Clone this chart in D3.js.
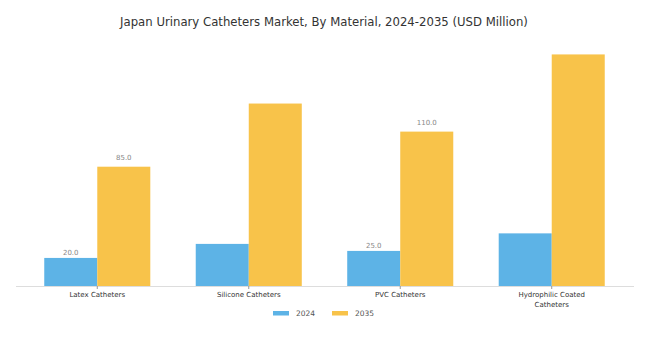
<!DOCTYPE html>
<html><head><meta charset="utf-8">
<script src="https://cdn.jsdelivr.net/npm/d3@7"></script>
<style>body{margin:0;background:#fff;}svg{display:block;font-family:"DejaVu Sans",sans-serif;}</style>
</head><body>
<svg id="chart" width="657" height="346"></svg>
<script>
const categories = ["Latex Catheters", "Silicone Catheters", "PVC Catheters", "Hydrophilic Coated Catheters"];
const seriesNames = ["2024", "2035"];
const values2024 = [20.0, 30.0, 25.0, 37.5];
const values2035 = [85.0, 130.0, 110.0, 165.0];
const showLabel = [true, false, true, false];
const colors = ["#5DB3E6", "#F8C34A"];
const title = "Japan Urinary Catheters Market, By Material, 2024-2035 (USD Million)";

const svg = d3.select("#chart");
const x0 = d3.scaleBand().domain(categories).range([16, 633]).paddingInner(0.3).paddingOuter(0.1865);
const x1 = d3.scaleBand().domain(seriesNames).range([0, x0.bandwidth()]);
const y = d3.scaleLinear().domain([0, 171]).range([286, 46]);

svg.append("text").attr("x", 324).attr("y", 26).attr("text-anchor", "middle")
  .attr("font-size", 11.7).attr("fill", "#333").text(title);

const series = [values2024, values2035];
series.forEach((vals, si) => {
  const data = vals.map((v, i) => ({ v, cat: categories[i], show: showLabel[i] }));
  svg.append("g").selectAll("rect").data(data).join("rect")
    .attr("x", d => x0(d.cat) + x1(seriesNames[si]))
    .attr("y", d => y(d.v))
    .attr("width", x1.bandwidth())
    .attr("height", d => y(0) - y(d.v))
    .attr("fill", colors[si]);
  svg.append("g").selectAll("text").data(data.filter(d => d.show)).join("text")
    .attr("x", d => x0(d.cat) + x1(seriesNames[si]) + x1.bandwidth() / 2)
    .attr("y", d => y(d.v) - (si === 0 ? 3 : 7))
    .attr("text-anchor", "middle").attr("font-size", 7).attr("fill", "#888")
    .text(d => d.v.toFixed(1));
});

// x axis
const axis = svg.append("g").attr("transform", `translate(0,${y(0)})`)
  .call(d3.axisBottom(x0).tickSize(3).tickFormat(""));
axis.select(".domain").attr("stroke", "#ddd").attr("d", "M16,0.5H634");
axis.selectAll(".tick line").attr("stroke", "#999");

categories.forEach(c => {
  const words = c.split(" ");
  const lines = c.length > 20 ? [words.slice(0, 2).join(" "), words.slice(2).join(" ")] : [c];
  const t = svg.append("text").attr("text-anchor", "middle").attr("font-size", 7).attr("fill", "#333");
  lines.forEach((l, k) => {
    t.append("tspan").attr("x", x0(c) + x0.bandwidth() / 2).attr("y", y(0) + 11 + k * 9.5).text(l);
  });
});

// legend
const legend = svg.append("g");
seriesNames.forEach((s, i) => {
  const lx = 273 + i * 59;
  legend.append("rect").attr("x", lx).attr("y", 311).attr("width", 16).attr("height", 4.5).attr("fill", colors[i]);
  legend.append("text").attr("x", lx + 23).attr("y", 316).attr("font-size", 7.5).attr("fill", "#555").text(s);
});
</script>
</body></html>
